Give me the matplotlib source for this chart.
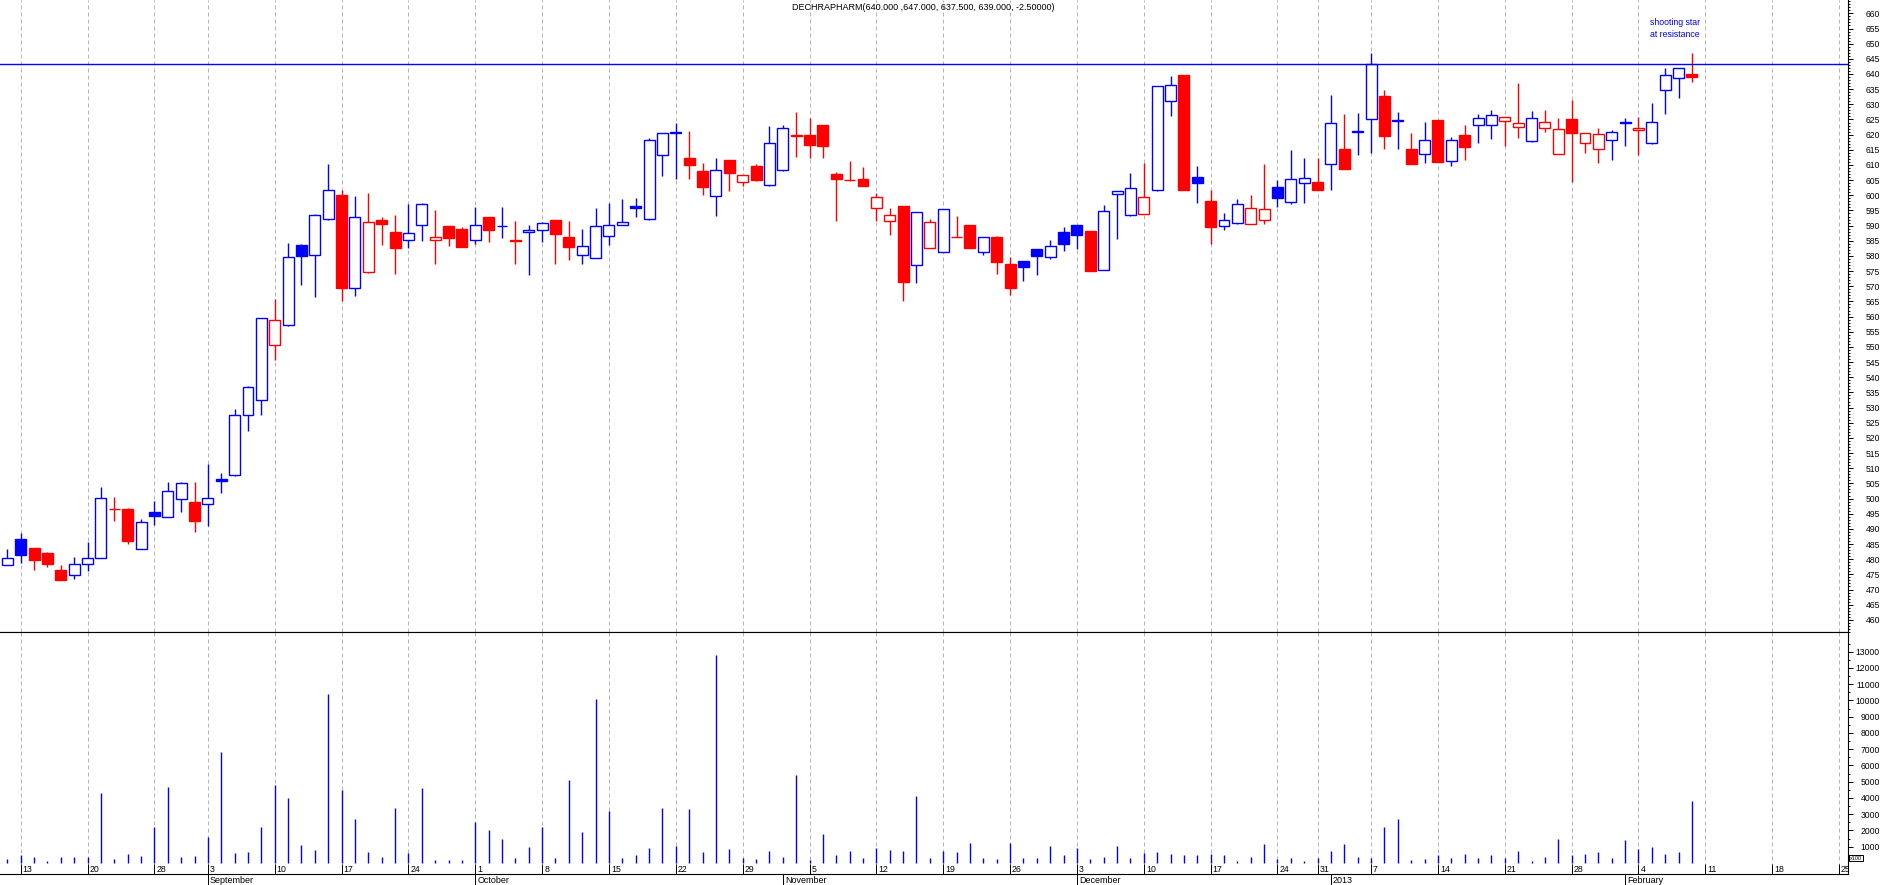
import numpy as np
import pandas as pd
import matplotlib.pyplot as plt
from matplotlib.transforms import blended_transform_factory

plt.rcParams['font.family'] = ['Liberation Sans', 'DejaVu Sans']

# trading days (UK calendar), Aug 10 2012 .. Feb 25 2013
holidays = ['2012-08-27', '2012-12-25', '2012-12-26', '2013-01-01']
days = pd.bdate_range('2012-08-10', '2013-02-25')
days = days[~days.isin(pd.to_datetime(holidays))]

# OHLC, one value per trading day from Aug 10 2012 to Feb 8 2013
opens = [478.2, 486.6, 483.6, 482.2, 476.3, 474.9, 478.5, 480.5, 496.7, 496.4,
         483.5, 495.7, 494.0, 500.0, 499.0, 498.3, 506.5, 507.8, 527.6, 532.5,
         550.7, 557.2, 583.6, 580.3, 592.2, 600.1, 569.4, 574.7, 591.8, 587.9,
         585.2, 590.2, 585.2, 589.8, 589.0, 585.2, 592.9, 589.8, 585.2, 587.9,
         588.5, 591.9, 586.3, 580.3, 579.3, 586.5, 590.2, 596.4, 592.1, 613.2,
         620.9, 612.2, 608.1, 599.7, 611.7, 604.3, 609.7, 603.3, 608.3, 619.8,
         619.9, 623.2, 607.0, 605.1, 605.4, 595.8, 591.5, 596.5, 577.0, 582.6,
         581.3, 586.2, 590.3, 581.3, 586.3, 577.4, 578.4, 582.3, 579.6, 588.0,
         590.3, 588.3, 575.4, 600.4, 593.5, 593.8, 601.7, 631.2, 639.7, 606.1,
         598.2, 589.8, 590.8, 590.5, 591.8, 602.8, 597.7, 604.0, 604.4, 610.3,
         615.3, 621.2, 625.1, 632.7, 624.7, 615.3, 613.6, 624.9, 611.2, 619.8,
         623.1, 623.1, 624.4, 622.4, 617.8, 622.1, 613.6, 625.1, 617.2, 615.2,
         618.2, 624.2, 621.6, 617.2, 634.6, 638.6, 640.0]
highs = [483.3, 488.5, 483.8, 482.3, 478.1, 480.6, 485.7, 503.7, 500.4, 496.8,
         493.4, 499.1, 505.3, 505.3, 505.3, 511.4, 508.3, 529.6, 537.0, 559.5,
         565.9, 584.2, 583.8, 593.7, 610.4, 601.8, 599.8, 600.8, 592.8, 593.6,
         597.2, 597.3, 595.2, 590.0, 589.6, 596.2, 593.0, 596.2, 591.6, 590.3,
         591.3, 592.0, 591.6, 589.0, 595.9, 597.4, 598.9, 599.2, 618.8, 620.7,
         623.9, 621.2, 610.7, 612.3, 611.8, 606.8, 610.4, 622.9, 623.2, 627.5,
         625.5, 623.3, 607.7, 611.4, 609.4, 600.9, 595.9, 596.5, 594.5, 592.3,
         595.5, 593.2, 590.3, 586.2, 586.7, 579.7, 578.4, 582.3, 585.3, 589.4,
         590.3, 588.3, 596.9, 601.5, 607.4, 610.5, 636.0, 639.4, 639.7, 609.7,
         601.8, 594.2, 598.8, 600.2, 610.4, 605.0, 615.0, 612.4, 612.4, 633.1,
         626.8, 627.2, 647.0, 634.6, 627.5, 620.6, 624.2, 624.9, 619.1, 623.2,
         626.8, 628.1, 625.8, 637.1, 627.8, 628.1, 625.5, 631.4, 620.5, 622.2,
         621.4, 625.4, 625.8, 630.5, 642.0, 642.0, 647.0]
lows = [478.0, 478.8, 476.5, 477.4, 473.0, 473.5, 476.0, 480.3, 492.6, 485.0,
        483.5, 491.3, 494.0, 495.6, 489.0, 491.0, 501.8, 507.6, 522.2, 527.5,
        545.6, 557.0, 570.3, 566.4, 592.0, 565.3, 566.7, 574.5, 583.5, 573.9,
        582.5, 584.8, 577.2, 583.2, 582.8, 583.8, 584.7, 585.8, 577.2, 573.6,
        584.5, 577.5, 578.8, 577.5, 579.2, 583.5, 590.2, 593.0, 592.0, 606.4,
        605.4, 605.4, 600.2, 593.2, 601.3, 603.1, 604.8, 603.1, 608.0, 612.7,
        612.4, 612.4, 591.4, 604.6, 603.2, 591.4, 586.8, 565.0, 571.0, 582.6,
        581.2, 586.2, 582.5, 580.2, 573.9, 567.2, 571.6, 573.6, 578.9, 581.5,
        582.4, 575.2, 575.4, 585.7, 593.3, 593.8, 601.5, 626.3, 601.6, 597.3,
        583.8, 588.4, 590.5, 590.4, 590.5, 596.3, 597.1, 597.3, 601.6, 601.9,
        608.8, 613.4, 613.8, 615.4, 615.4, 610.2, 610.8, 611.1, 609.8, 611.5,
        617.4, 618.4, 616.1, 619.0, 617.7, 621.0, 613.6, 604.4, 613.8, 610.5,
        611.8, 616.4, 613.4, 617.0, 626.9, 632.2, 637.5]
closes = [480.5, 481.4, 479.7, 478.4, 473.2, 478.5, 480.5, 500.3, 496.7, 486.0,
          492.4, 494.2, 502.6, 505.2, 492.6, 500.3, 505.8, 527.6, 536.8, 559.4,
          558.8, 579.5, 580.0, 593.5, 601.7, 569.3, 592.8, 591.2, 590.4, 582.5,
          587.5, 597.1, 586.2, 585.8, 582.8, 590.2, 588.4, 589.8, 584.8, 588.4,
          590.8, 587.4, 582.8, 583.4, 589.8, 590.2, 591.2, 595.8, 618.2, 620.5,
          620.6, 610.1, 602.6, 608.3, 607.5, 606.6, 605.2, 617.2, 622.1, 619.4,
          616.7, 616.4, 605.3, 605.1, 603.2, 599.4, 593.5, 571.3, 594.5, 591.2,
          595.4, 586.2, 582.5, 586.2, 577.9, 569.3, 576.2, 579.9, 583.3, 583.8,
          586.8, 575.2, 594.8, 601.4, 602.4, 599.4, 635.9, 636.3, 601.6, 603.9,
          589.4, 591.8, 597.1, 595.8, 595.4, 599.0, 605.3, 605.6, 601.6, 623.8,
          608.8, 620.8, 643.2, 619.7, 624.4, 610.2, 618.3, 611.1, 618.3, 615.9,
          625.4, 626.4, 625.7, 623.8, 625.4, 624.1, 621.8, 620.6, 620.4, 620.2,
          620.8, 623.8, 622.1, 624.1, 639.6, 641.9, 639.0]
volumes = [250, 490, 350, 120, 350, 390, 350, 4300, 250, 550,
           450, 2200, 4700, 390, 450, 1600, 6800, 640, 700, 2200,
           4800, 4000, 1100, 800, 10400, 4500, 2700, 680, 390, 3400,
           640, 4600, 160, 190, 190, 2500, 2000, 1500, 330, 1000,
           2200, 330, 5100, 1900, 10100, 3200, 330, 490, 940, 3400,
           1050, 3300, 660, 12800, 860, 290, 250, 740, 390, 5400,
           190, 1800, 490, 740, 310, 940, 800, 740, 4100, 310,
           750, 680, 1230, 310, 250, 1210, 310, 310, 1070, 490,
           940, 250, 390, 1070, 310, 620, 680, 550, 490, 490,
           550, 490, 120, 390, 1170, 250, 310, 120, 300, 740,
           1170, 350, 300, 2200, 2700, 190, 250, 490, 310, 550,
           310, 490, 300, 740, 120, 370, 1500, 490, 550, 680,
           310, 1400, 860, 980, 550, 680, 3800]

title = 'DECHRAPHARM(640.000 ,647.000, 637.500, 639.000, -2.50000)'
resistance = 643.2

o = np.array(opens); h = np.array(highs); l = np.array(lows); c = np.array(closes)
v = np.array(volumes)
x = np.arange(len(c))

BLUE = '#0000ff'
RED = '#ff0000'
prev = np.r_[c[0], c[:-1]]
col = np.where(c >= prev, BLUE, RED)
face = np.where(c < o, col, 'white')

fig = plt.figure(figsize=(18.83, 8.85), dpi=100)
ax = fig.add_axes([0, 0.2859, 0.9814, 0.7141])
ax2 = fig.add_axes([0, 0.01243, 0.9814, 0.2735])

# week / month positions on the trading-day axis
week_pos = [i for i in range(1, len(days)) if days[i].weekday() < days[i - 1].weekday()]
month_pos = [i for i in range(1, len(days)) if days[i].month != days[i - 1].month]

# price panel
ax.vlines(x, l, h, colors=col, lw=1.0, zorder=2)
ax.bar(x, np.abs(c - o), bottom=np.minimum(o, c), width=0.82,
       color=face, edgecolor=col, lw=1.0, zorder=3)
ax.axhline(resistance, color=BLUE, lw=1.0, zorder=4)
ax.text(124.7, 655.0, 'shooting star\nat resistance', color=BLUE,
        ha='center', va='center', fontsize=6.3, linespacing=1.35)

ax.set_xlim(-0.548, 137.67)
ax.set_ylim(456.3, 664.4)
ax.yaxis.tick_right()
ax.set_yticks(np.arange(460, 661, 5))
ax.set_yticks(np.arange(456, 665, 1), minor=True)
ax.tick_params(axis='y', which='major', length=3.6, width=0.7, pad=9.4, labelsize=6.2)
ax.tick_params(axis='y', which='minor', length=1.7, width=0.7)
ax.set_xticks(week_pos)
ax.tick_params(axis='x', length=0, labelbottom=False)
ax.grid(axis='x', color='#b4b4b4', ls=(0, (4, 3)), lw=0.72)
for s in ['left', 'top']:
    ax.spines[s].set_visible(False)
ax.spines['right'].set_linewidth(0.8)
ax.spines['bottom'].set_linewidth(0.8)

# volume panel
ax2.vlines(x, 0, v, colors=BLUE, lw=1.0)
ax2.set_xlim(-0.548, 137.67)
ax2.set_ylim(-677, 14215)
ax2.yaxis.tick_right()
ax2.set_yticks(np.arange(1000, 13001, 1000))
ax2.set_yticks(np.arange(500, 13501, 500), minor=True)
ax2.tick_params(axis='y', which='major', length=3.6, width=0.7, pad=19.4, labelsize=6.2)
ax2.tick_params(axis='y', which='minor', length=1.7, width=0.7)
for lab in ax2.get_yticklabels():
    lab.set_horizontalalignment('right')
ax2.xaxis.remove_overlapping_locs = False
ax2.set_xticks(week_pos)
ax2.set_xticks(month_pos, minor=True)
ax2.tick_params(axis='x', which='major', direction='in', length=7.2, width=0.7, labelbottom=False)
ax2.tick_params(axis='x', which='minor', direction='out', length=8, width=0.7, labelbottom=False)
ax2.grid(axis='x', which='major', color='#b4b4b4', ls=(0, (4, 3)), lw=0.72)
ax2.spines['left'].set_visible(False)
for s in ['right', 'bottom', 'top']:
    ax2.spines[s].set_linewidth(0.8)

tr = blended_transform_factory(ax2.transData, ax2.transAxes)
for i in week_pos:
    ax2.text(i + 0.15, 0.008, str(days[i].day), transform=tr, fontsize=6.3,
             ha='left', va='baseline', clip_on=True)
for i in month_pos:
    name = str(days[i].year) if days[i].month == 1 else days[i].strftime('%B')
    ax2.text(i + 0.15, -0.008, name, transform=tr, fontsize=6.5,
             ha='left', va='top', clip_on=False)

fig.text(1850 / 1883, 1 - 858 / 885, 'x100', fontsize=4.0, ha='left', va='center',
         bbox=dict(boxstyle='square,pad=0.1', fc='white', ec='black', lw=0.7))
fig.text(923.5 / 1883, 1 - 7 / 885, title, ha='center', va='center', fontsize=6.5)

fig.savefig('out.png', dpi=100)
